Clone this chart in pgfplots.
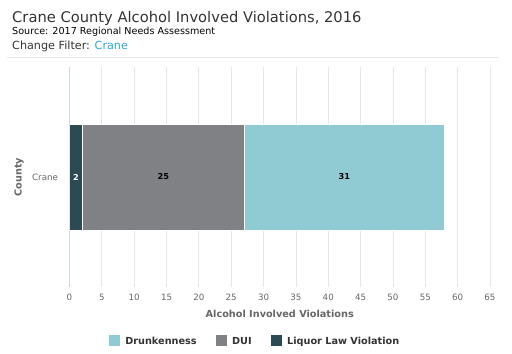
\documentclass[border=0pt]{standalone}
\usepackage{pgfplots}
\pgfplotsset{compat=1.18}
\usepackage{fontspec}
\setmainfont{DejaVu Sans}
\definecolor{drunk}{HTML}{90CBD4}
\definecolor{dui}{HTML}{808185}
\definecolor{liquor}{HTML}{2C4A54}
\definecolor{gridc}{HTML}{E6E6E6}
\definecolor{axisc}{HTML}{CCD6EB}
\definecolor{ticklab}{HTML}{666666}
\definecolor{titlec}{HTML}{333333}
\definecolor{linkc}{HTML}{2AA8D8}
\begin{document}
\begin{tikzpicture}
\path[use as bounding box] (0,0) rectangle (512bp,354bp);
\node[anchor=base west, inner sep=0, text=titlec, font=\fontsize{14.7bp}{17bp}\selectfont] at (12bp,331.7bp) {Crane County Alcohol Involved Violations, 2016};
\node[anchor=base west, inner sep=0, text=black, font=\fontsize{9.6bp}{11bp}\selectfont] at (12bp,319bp) {Source: 2017 Regional Needs Assessment};
\node[anchor=base west, inner sep=0, text=titlec, font=\fontsize{11.2bp}{13bp}\selectfont] at (12bp,304bp) {Change Filter: \textcolor{linkc}{Crane}};
\draw[gridc, line width=1bp] (7bp,296bp) -- (498bp,296bp);
\begin{axis}[
  at={(69.5bp,67bp)}, anchor=south west,
  scale only axis, width=420.5bp, height=220bp,
  xbar stacked, bar width=106bp,
  xmin=0, xmax=65, ymin=-1, ymax=1,
  xtick={0,5,...,65},
  ytick={0}, yticklabels={Crane},
  extra y ticks={-1,1}, extra y tick labels={},
  extra y tick style={major tick length=5bp, tick align=outside, tick style={draw=axisc, line width=0.8bp}, grid=none},
  axis y line*=left, axis x line*=bottom,
  x axis line style={draw=none}, y axis line style={draw=axisc, line width=0.8bp, -},
  xtick style={draw=none}, ytick style={draw=none},
  xmajorgrids, grid style={gridc, line width=0.8bp},
  /pgf/number format/assume math mode=true,
  tick label style={text=ticklab, font=\fontsize{8.7bp}{10bp}\selectfont},
  xticklabel style={yshift=-4bp},
  yticklabel style={xshift=-8bp},
  xlabel={Alcohol Involved Violations},
  ylabel={County},
  every axis x label/.style={at={(axis description cs:0.5,-0.123)}, anchor=center, text=ticklab, font=\fontsize{9.7bp}{11bp}\selectfont\bfseries},
  every axis y label/.style={at={(axis description cs:-0.12,0.5)}, anchor=center, rotate=90, text=ticklab, font=\fontsize{9.7bp}{11bp}\selectfont\bfseries},
  reverse legend,
  legend columns=3,
  legend image code/.code={\fill (0bp,-4.5bp) rectangle (12bp,7.5bp);},
  legend style={at={(0.44,-0.245)}, anchor=center, draw=none, fill=none,
    font=\fontsize{9.7bp}{11bp}\selectfont\bfseries, text=titlec,
    /tikz/every odd column/.append style={column sep=3bp},
    /tikz/every even column/.append style={column sep=16bp},
    cells={anchor=west}},
]
\addplot[fill=liquor, draw=white, line width=0.5bp] coordinates {(2,0)};
\addplot[fill=dui, draw=white, line width=0.5bp] coordinates {(25,0)};
\addplot[fill=drunk, draw=white, line width=0.5bp] coordinates {(31,0)};
\legend{Liquor Law Violation, DUI, Drunkenness}
\end{axis}
\begin{axis}[
  at={(69.5bp,67bp)}, anchor=south west,
  scale only axis, width=420.5bp, height=220bp,
  xmin=0, xmax=65, ymin=-1, ymax=1,
  hide axis,
  point meta=explicit symbolic,
  nodes near coords,
  every node near coord/.append style={anchor=center, font=\fontsize{8.2bp}{9bp}\selectfont\bfseries},
]
\addplot[only marks, mark=none, nodes near coords style={text=white}] coordinates {(1,0) [2]};
\addplot[only marks, mark=none, nodes near coords style={text=black}] coordinates {(14.5,0) [25] (42.5,0) [31]};
\end{axis}
\end{tikzpicture}
\end{document}
